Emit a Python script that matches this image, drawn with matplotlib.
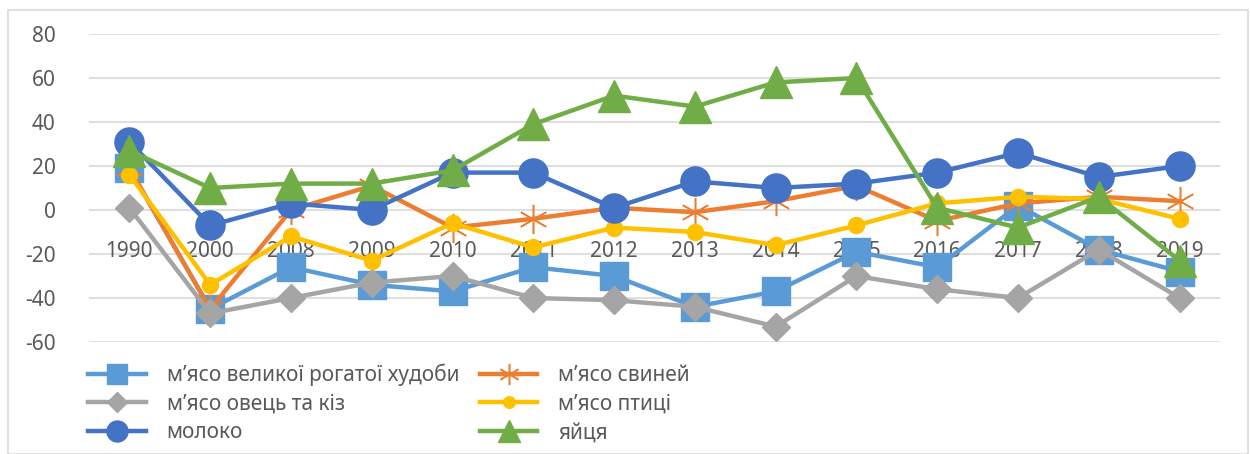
import numpy as np
import matplotlib.pyplot as plt
from matplotlib.patches import Rectangle

plt.rcParams["font.family"] = ["Noto Sans", "DejaVu Sans"]
plt.rcParams["axes.unicode_minus"] = False

years = ["1990", "2000", "2008", "2009", "2010", "2011", "2012",
         "2013", "2014", "2015", "2016", "2017", "2018", "2019"]

beef = [19, -45, -26, -34, -37, -26, -30, -44, -37, -19, -26, 2, -18, -28]
pork = [19, -45, 0, 11, -8, -4, 1, -1, 4, 11, -5, 3, 6, 4]
sheep = [1, -47, -40, -33, -30, -40, -41, -44, -53, -30, -36, -40, -18, -40]
poultry = [16, -34, -12, -23, -6, -17, -8, -10, -16, -7, 3, 6, 5, -4]
milk = [31, -7, 3, 0, 17, 17, 1, 13, 10, 12, 17, 26, 15, 20]
eggs = [27, 10, 12, 12, 18, 39, 52, 47, 58, 60, 1, -8, 6, -23]

labels = ["м’ясо великої рогатої худоби", "м’ясо свиней", "м’ясо овець та кіз",
          "м’ясо птиці", "молоко", "яйця"]

fig = plt.figure(figsize=(12.5, 4.54), dpi=100)
ax = fig.add_axes([89 / 1250, 1 - 342 / 454, (1220 - 89) / 1250, 308 / 454])

x = np.arange(len(years))
txt = "#595959"

styles = [
    (beef, "#5B9BD5", "s", 20, {}),
    (pork, "#ED7D31", (6, 2, 0), 21, {"markeredgewidth": 1.1}),
    (sheep, "#A5A5A5", "D", 14, {}),
    (poultry, "#FFC000", "o", 11.5, {}),
    (milk, "#4472C4", "o", 21, {}),
    (eggs, "#70AD47", "^", 23, {}),
]

handles = []
for i, (vals, col, mk, ms, kw) in enumerate(styles):
    h, = ax.plot(x, vals, color=col, lw=3.2, marker=mk, markersize=ms,
                 markerfacecolor=col, markeredgecolor=col, label=labels[i],
                 zorder=3 + i, clip_on=False, **kw)
    handles.append(h)

ax.set_xlim(-0.5, len(years) - 0.5)
ax.set_ylim(-60, 80)
ax.set_yticks(np.arange(-60, 81, 20))
ax.set_xticks([])
ax.grid(axis="y", color="#d9d9d9", lw=1.2, zorder=0)
ax.set_axisbelow(True)
for s in ax.spines.values():
    s.set_visible(False)
ax.tick_params(axis="y", length=0, pad=24, labelsize=15, labelcolor=txt)

for xi, yr in zip(x, years):
    ax.text(xi, -19, yr, ha="center", va="center", fontsize=15, color=txt, zorder=1)

order = [0, 2, 4, 1, 3, 5]
fig.legend([handles[i] for i in order], [labels[i] for i in order],
           loc="upper left", bbox_to_anchor=(78 / 1250, 1 - 353 / 454),
           ncol=2, frameon=False, fontsize=15, labelcolor=txt,
           handlelength=2.75, handletextpad=1.0, columnspacing=1.0,
           labelspacing=0.37, borderpad=0, markerscale=0.72)

fig.patches.append(Rectangle((8 / 1250, 0), 1240 / 1250, 1 - 10 / 454,
                             transform=fig.transFigure, fill=False,
                             edgecolor="#d9d9d9", lw=1.2))

fig.savefig("out.png", dpi=100)
